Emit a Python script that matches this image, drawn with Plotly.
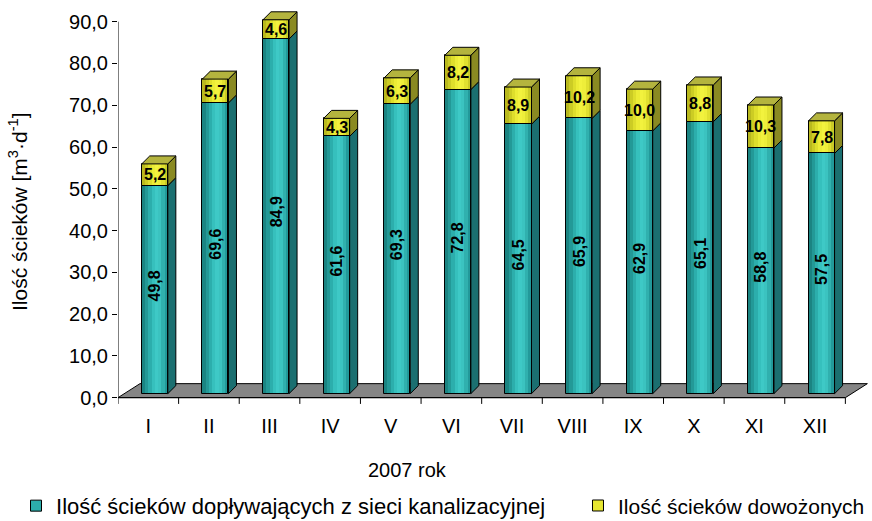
import plotly.graph_objects as go

# ---------------- data ----------------
months = ["I", "II", "III", "IV", "V", "VI", "VII", "VIII", "IX", "X", "XI", "XII"]
sewer = [49.8, 69.6, 84.9, 61.6, 69.3, 72.8, 64.5, 65.9, 62.9, 65.1, 58.8, 57.5]
trucked = [5.2, 5.7, 4.6, 4.3, 6.3, 8.2, 8.9, 10.2, 10.0, 8.8, 10.3, 7.8]
y_ticks = [0, 10, 20, 30, 40, 50, 60, 70, 80, 90]
y_tick_text = ["0,0", "10,0", "20,0", "30,0", "40,0", "50,0", "60,0", "70,0", "80,0", "90,0"]
name_sewer = "Ilość ścieków dopływających z sieci kanalizacyjnej"
name_trucked = "Ilość ścieków dowożonych"

# ---------------- style / pseudo-3D geometry (data units) ----------------
FONT = "Liberation Sans, Arial, sans-serif"
BAR_W = 0.43          # front face width (category units)
BAR_DX = 0.107        # shift of bars into depth (x)
BAR_BASE = 0.96       # bars sit slightly back on the floor (y)
SIDE_DX = 0.132       # bar depth, x
SIDE_DY = 1.91        # bar depth, y
FLOOR_DX = 0.363
FLOOR_DY = 3.35

teal_stripes = ["#1b8482", "#239997", "#2caeac", "#36c0bd", "#3ec9c6",
                "#3bc3c0", "#30b0ae", "#22999a"]
yellow_stripes = ["#b9b91e", "#cccc24", "#dede2c", "#ecec36", "#f2f23e",
                  "#eeee3a", "#e0e030", "#caca26"]
teal_side = "#1b6f70"
yellow_side = "#8a8a22"
yellow_top = "#b4b43e"
floor_col = "#858585"

n = len(months)
xs = list(range(n))
cx = [x + BAR_DX for x in xs]
teal_base = [BAR_BASE] * n
yel_base = [BAR_BASE + s for s in sewer]
tops = [BAR_BASE + s + t for s, t in zip(sewer, trucked)]

fig = go.Figure()

# front faces: gradient stripes built as overlaid bars
ns = len(teal_stripes)
sw = BAR_W / ns
for k in range(ns):
    off = -BAR_W / 2 + k * sw
    fig.add_trace(go.Bar(x=cx, y=sewer, base=teal_base, width=sw * 1.02, offset=off,
                         marker=dict(color=teal_stripes[k], line=dict(width=0)),
                         showlegend=False, hoverinfo="skip"))
    fig.add_trace(go.Bar(x=cx, y=trucked, base=yel_base, width=sw * 1.02, offset=off,
                         marker=dict(color=yellow_stripes[k], line=dict(width=0)),
                         showlegend=False, hoverinfo="skip"))
# outlines of front faces
fig.add_trace(go.Bar(x=cx, y=sewer, base=teal_base, width=BAR_W, offset=-BAR_W / 2,
                     marker=dict(color="rgba(0,0,0,0)", line=dict(color="black", width=1)),
                     showlegend=False, hoverinfo="skip"))
fig.add_trace(go.Bar(x=cx, y=trucked, base=yel_base, width=BAR_W, offset=-BAR_W / 2,
                     marker=dict(color="rgba(0,0,0,0)", line=dict(color="black", width=1)),
                     showlegend=False, hoverinfo="skip"))


def side_polys(y0s, y1s):
    px, py = [], []
    for c, a, b in zip(cx, y0s, y1s):
        r = c + BAR_W / 2
        px += [r, r + SIDE_DX, r + SIDE_DX, r, r, None]
        py += [a, a + SIDE_DY, b + SIDE_DY, b, a, None]
    return px, py


sx, sy = side_polys(teal_base, yel_base)
fig.add_trace(go.Scatter(x=sx, y=sy, mode="lines", fill="toself", fillcolor=teal_side,
                         line=dict(color="black", width=1), showlegend=False, hoverinfo="skip"))
sx, sy = side_polys(yel_base, tops)
fig.add_trace(go.Scatter(x=sx, y=sy, mode="lines", fill="toself", fillcolor=yellow_side,
                         line=dict(color="black", width=1), showlegend=False, hoverinfo="skip"))
tx, ty = [], []
for c, t in zip(cx, tops):
    l, r = c - BAR_W / 2, c + BAR_W / 2
    tx += [l, r, r + SIDE_DX, l + SIDE_DX, l, None]
    ty += [t, t, t + SIDE_DY, t + SIDE_DY, t, None]
fig.add_trace(go.Scatter(x=tx, y=ty, mode="lines", fill="toself", fillcolor=yellow_top,
                         line=dict(color="black", width=1), showlegend=False, hoverinfo="skip"))

# legend entries (one legend each, to place them like the reference)
fig.add_trace(go.Scatter(x=[None], y=[None], mode="markers", name=name_sewer, legend="legend",
                         marker=dict(symbol="square", size=11, color="#2caeac",
                                     line=dict(color="black", width=1))))
fig.add_trace(go.Scatter(x=[None], y=[None], mode="markers", name=name_trucked, legend="legend2",
                         marker=dict(symbol="square", size=11, color="#e6e632",
                                     line=dict(color="black", width=1))))

x_lo, x_hi = -0.5, n - 0.5

shapes = [
    # floor
    dict(type="path", xref="x", yref="y", layer="below",
         path=f"M {x_lo},0 L {x_hi},0 L {x_hi + FLOOR_DX},{FLOOR_DY} L {x_lo + FLOOR_DX},{FLOOR_DY} Z",
         fillcolor=floor_col, line=dict(color="black", width=1)),
    # axes lines
    dict(type="line", xref="x", yref="y", x0=x_lo, x1=x_lo, y0=0, y1=y_ticks[-1],
         line=dict(color="black", width=1)),
    dict(type="line", xref="x", yref="y", x0=x_lo, x1=x_hi, y0=0, y1=0,
         line=dict(color="black", width=1)),
]
for k in range(n + 1):
    shapes.append(dict(type="line", xref="x", yref="y", x0=x_lo + k, x1=x_lo + k, y0=0, y1=-1.5,
                       line=dict(color="black", width=1)))

annotations = []
lab_font = dict(family=FONT, size=16, color="black", weight="bold")
for c, s, t, yb in zip(cx, sewer, trucked, yel_base):
    annotations.append(dict(x=c, y=BAR_BASE + s / 2 + SIDE_DY / 2, xref="x", yref="y",
                            text=f"{s:.1f}".replace(".", ","), textangle=-90,
                            showarrow=False, font=lab_font))
    annotations.append(dict(x=c, y=yb + t / 2, xref="x", yref="y",
                            text=f"{t:.1f}".replace(".", ","),
                            showarrow=False, font=lab_font))
annotations.append(dict(x=0.386, y=-0.16, xref="paper", yref="paper", text="2007 rok",
                        showarrow=False, font=dict(family=FONT, size=20, color="black"),
                        xanchor="center", yanchor="middle"))
annotations.append(dict(x=-0.133, y=0.484, xref="paper", yref="paper",
                        text="Ilość ścieków [m<sup>3</sup>·d<sup>-1</sup>]", textangle=-90,
                        showarrow=False, font=dict(family=FONT, size=21, color="black"),
                        xanchor="center", yanchor="middle"))

fig.update_layout(
    width=872, height=521, autosize=False,
    margin=dict(l=118, r=3, t=5, b=115, autoexpand=False),
    paper_bgcolor="white", plot_bgcolor="white",
    barmode="overlay", bargap=0,
    shapes=shapes, annotations=annotations,
    font=dict(family=FONT, color="black"),
    xaxis=dict(range=[x_lo, x_hi + 0.39], tickvals=xs, ticktext=months,
               showgrid=False, zeroline=False, showline=False,
               ticks="outside", ticklen=2, tickcolor="rgba(0,0,0,0)",
               tickfont=dict(family=FONT, size=20, color="black"), fixedrange=True),
    yaxis=dict(range=[-2, 94], tickvals=y_ticks, ticktext=y_tick_text,
               showgrid=False, zeroline=False, showline=False,
               ticks="outside", ticklen=5, tickcolor="black",
               tickfont=dict(family=FONT, size=20, color="black"), fixedrange=True),
    legend=dict(orientation="h", x=-0.1358, y=-0.249, xanchor="left", yanchor="middle",
                font=dict(family=FONT, size=22, color="black"),
                itemsizing="trace", bgcolor="rgba(0,0,0,0)"),
    legend2=dict(orientation="h", x=0.6125, y=-0.249, xanchor="left", yanchor="middle",
                 font=dict(family=FONT, size=21, color="black"),
                 itemsizing="trace", bgcolor="rgba(0,0,0,0)"),
)

fig.write_html("out.html", config={"displayModeBar": False},
               post_script="document.body.style.margin='0';")
